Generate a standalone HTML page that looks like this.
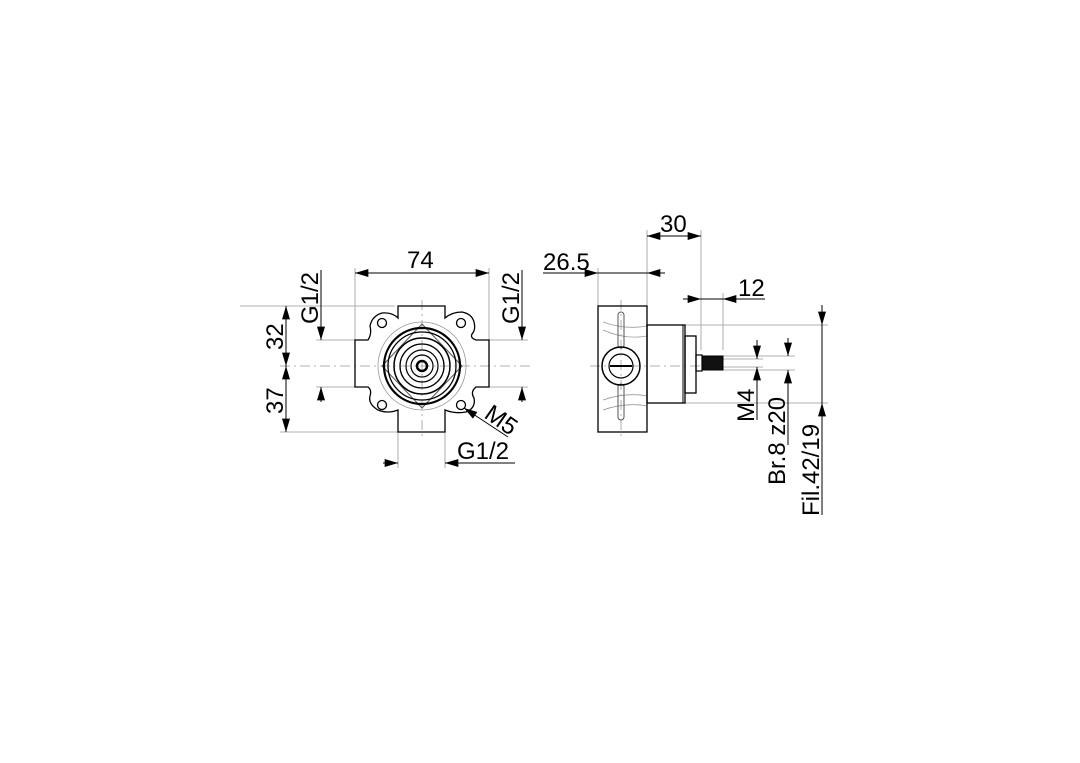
<!DOCTYPE html>
<html><head><style>body{margin:0;background:#fff}svg{display:block}text{font-family:"Liberation Sans",sans-serif;font-size:24px;fill:#000}</style></head>
<body>
<svg width="1080" height="763" viewBox="0 0 1080 763" xmlns="http://www.w3.org/2000/svg">
<defs>
<marker id="a" viewBox="0 0 10 6" refX="10" refY="3" markerWidth="16" markerHeight="8" markerUnits="userSpaceOnUse" orient="auto-start-reverse"><path d="M0,0L10,3L0,6z" fill="#000"/></marker>
</defs>
<g stroke="#000" fill="none" stroke-width="1">
<g stroke="#999" stroke-width="0.8">
<line x1="240" y1="306" x2="395" y2="306"/>
<line x1="280" y1="432" x2="398" y2="432"/>
<line x1="355" y1="268" x2="355" y2="340"/>
<line x1="489" y1="268" x2="489" y2="340"/>
<line x1="316" y1="340" x2="355" y2="340"/><line x1="316" y1="387" x2="355" y2="387"/>
<line x1="489" y1="340" x2="528" y2="340"/><line x1="489" y1="387" x2="528" y2="387"/>
<line x1="398" y1="432" x2="398" y2="468"/><line x1="445" y1="432" x2="445" y2="468"/>
<line x1="280" y1="366" x2="530" y2="366" stroke-dasharray="10,4,2,4"/>
<line x1="422" y1="300" x2="422" y2="440" stroke-dasharray="10,4,2,4"/>
<circle cx="422" cy="366" r="44"/>
</g>
<path d="M398,306H445V318Q452,312 462,312Q472,314 474,322Q476,330 472,334Q470,338 476,340H489V387H476Q470,392 474,398Q476,408 466,412Q455,414 445,410V432H398V410Q388,414 378,410Q368,404 370,396Q372,390 368,387H355V340H368Q372,334 370,326Q372,316 382,313Q392,312 398,318Z" stroke-width="1.3"/>
<circle cx="382" cy="323" r="4.5" stroke-width="1.3"/><circle cx="461" cy="323" r="4.5" stroke-width="1.3"/>
<circle cx="382" cy="405" r="4.5" stroke-width="1.3"/><circle cx="461" cy="405" r="4.5" stroke-width="1.3"/>
<path d="M422,324L462,366L422,408L382,366Z" stroke="#555" stroke-linejoin="round"/>
<circle cx="422" cy="366" r="38" stroke-width="2.2"/>
<circle cx="422" cy="366" r="34" stroke-width="1.3"/>
<circle cx="422" cy="366" r="28" stroke-width="1.5"/>
<circle cx="422" cy="366" r="22" stroke-width="1.3"/>
<circle cx="422" cy="366" r="16" stroke-width="1.2"/>
<circle cx="422" cy="366" r="11" stroke-width="1.2"/>
<circle cx="422" cy="366" r="5" stroke-width="2.5"/>
<line x1="355" y1="273" x2="489" y2="273" marker-start="url(#a)" marker-end="url(#a)"/>
<line x1="286" y1="306" x2="286" y2="366" marker-start="url(#a)" marker-end="url(#a)"/>
<line x1="286" y1="366" x2="286" y2="432" marker-start="url(#a)" marker-end="url(#a)"/>
<line x1="321" y1="270" x2="321" y2="340" marker-end="url(#a)"/>
<line x1="321" y1="402" x2="321" y2="387" marker-end="url(#a)"/>
<line x1="522" y1="270" x2="522" y2="340" marker-end="url(#a)"/>
<line x1="522" y1="402" x2="522" y2="387" marker-end="url(#a)"/>
<line x1="383" y1="463" x2="398" y2="463" marker-end="url(#a)"/>
<line x1="515" y1="463" x2="445" y2="463" marker-end="url(#a)"/>
<line x1="508" y1="437" x2="464" y2="408" marker-end="url(#a)"/>
<g stroke="#999" stroke-width="0.8">
<line x1="598" y1="268" x2="598" y2="306"/><line x1="647" y1="230" x2="647" y2="325"/>
<line x1="701" y1="230" x2="701" y2="350"/><line x1="723" y1="293" x2="723" y2="350"/>
<line x1="685" y1="325" x2="828" y2="325"/><line x1="685" y1="403" x2="828" y2="403"/>
<line x1="723" y1="356" x2="795" y2="356"/><line x1="723" y1="370" x2="795" y2="370"/>
<line x1="723" y1="359" x2="763" y2="359"/><line x1="723" y1="367" x2="763" y2="367"/>
<line x1="590" y1="366" x2="700" y2="366" stroke-dasharray="10,4,2,4"/>
<line x1="621" y1="300" x2="621" y2="440" stroke-dasharray="10,4,2,4"/>
<path d="M603,330Q625,340 647,336M603,400Q625,392 647,396M603,322Q625,330 647,326M603,410Q625,402 647,406"/>
</g>
<rect x="598" y="306" width="49" height="126" stroke-width="1.3"/>
<rect x="618" y="312" width="6" height="36" rx="3" stroke="#555"/>
<rect x="618" y="384" width="6" height="36" rx="3" stroke="#555"/>
<circle cx="621" cy="366" r="19" stroke-width="1.5"/>
<circle cx="621" cy="366" r="12" stroke-width="1.2"/>
<line x1="610" y1="366" x2="632" y2="366" stroke-width="2"/>
<rect x="647" y="325" width="38" height="78" stroke-width="1.3"/>
<line x1="683" y1="325" x2="683" y2="403"/>
<rect x="685" y="336" width="11" height="57" stroke-width="1.3"/>
<rect x="696" y="355" width="6" height="16" stroke-width="1.2"/>
<rect x="702" y="356" width="21" height="14" fill="#111"/>
<line x1="647" y1="236" x2="701" y2="236" marker-start="url(#a)" marker-end="url(#a)"/>
<line x1="543" y1="273" x2="598" y2="273" marker-end="url(#a)"/>
<line x1="665" y1="273" x2="598" y2="273"/>
<line x1="665" y1="273" x2="647" y2="273" marker-end="url(#a)"/>
<line x1="683" y1="299" x2="701" y2="299" marker-end="url(#a)"/>
<line x1="765" y1="299" x2="723" y2="299" marker-end="url(#a)"/>
<line x1="701" y1="299" x2="723" y2="299"/>
<line x1="822" y1="305" x2="822" y2="325" marker-end="url(#a)"/>
<line x1="822" y1="515" x2="822" y2="403" marker-end="url(#a)"/>
<line x1="822" y1="325" x2="822" y2="403"/>
<line x1="788" y1="338" x2="788" y2="356" marker-end="url(#a)"/>
<line x1="788" y1="445" x2="788" y2="370" marker-end="url(#a)"/>
<line x1="757" y1="340" x2="757" y2="359" marker-end="url(#a)"/>
<line x1="757" y1="420" x2="757" y2="367" marker-end="url(#a)"/>
</g>
<text x="407" y="268">74</text>
<text transform="translate(318,324) rotate(-90)">G1/2</text>
<text transform="translate(519,324) rotate(-90)">G1/2</text>
<text transform="translate(283,350) rotate(-90)">32</text>
<text transform="translate(283,414) rotate(-90)">37</text>
<text x="457" y="459">G1/2</text>
<text transform="translate(483,417) rotate(35)">M5</text>
<text x="543" y="270">26.5</text>
<text x="660" y="232">30</text>
<text x="738" y="296">12</text>
<text transform="translate(754,422) rotate(-90)">M4</text>
<text transform="translate(785,485) rotate(-90)">Br.8 z20</text>
<text transform="translate(819,516) rotate(-90)">Fil.42/19</text>
</svg>
</body></html>
